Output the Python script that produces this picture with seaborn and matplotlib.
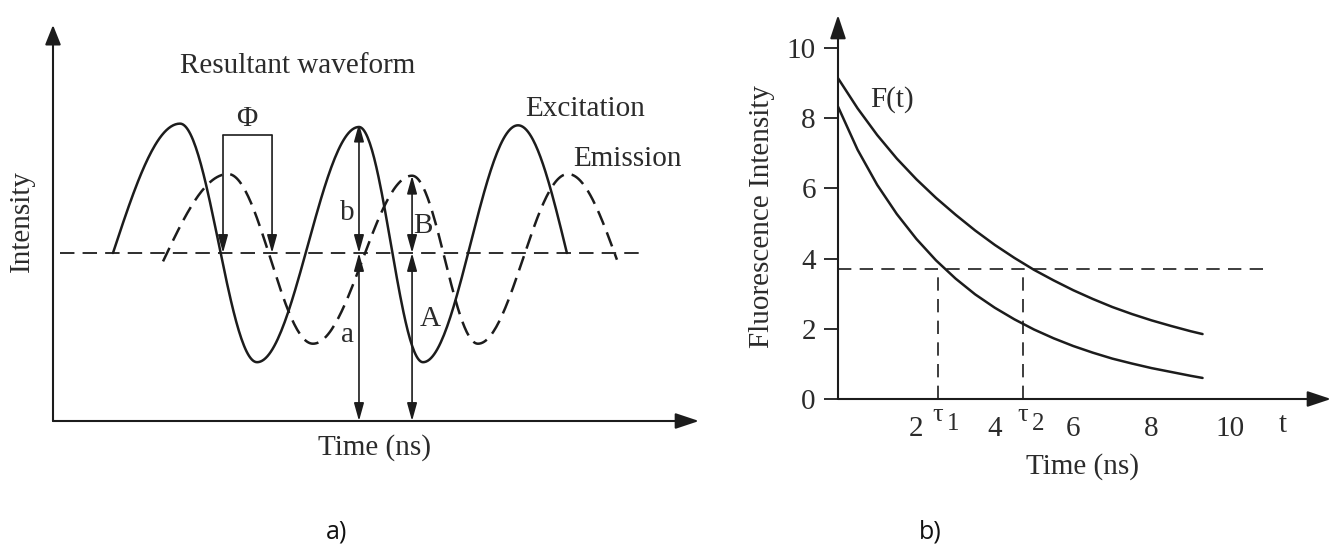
import numpy as np
import pandas as pd
import matplotlib
matplotlib.use("Agg")
import matplotlib.pyplot as plt
import seaborn as sns

# ---------------- data ----------------
# panel a: key points of the two waveforms (time in arb. units, intensity rel. to mean level)
EXC_X = [3.56, 7.54, 12.11, 18.16, 21.96, 27.60, 30.50]
EXC_Y = [1.00, 1.77, 0.35, 1.75, 0.35, 1.76, 1.00]
EMI_X = [6.53, 10.39, 15.43, 21.31, 25.22, 30.56, 33.47]
EMI_Y = [0.95, 1.47, 0.46, 1.46, 0.46, 1.47, 0.96]
BASELINE = 1.0
BASE_SPAN = [0.42, 35.0]
PHI_X = [10.09, 13.0]
PHI_TOP = 1.70
EXC_AMP_X = 18.16     # b / a arrows
EMI_AMP_X = 21.31     # B / A arrows

# panel b: two decay curves
DECAY_T = [0, 0.5, 1, 1.5, 2, 2.5, 3, 3.5, 4, 4.5, 5, 5.5, 6, 6.5, 7, 7.5, 8, 8.5, 9, 9.3]
F_SLOW = [9.14, 8.28, 7.52, 6.85, 6.26, 5.73, 5.25, 4.80, 4.39, 4.02,
          3.68, 3.38, 3.10, 2.85, 2.62, 2.42, 2.24, 2.08, 1.93, 1.85]
F_FAST = [8.33, 7.10, 6.10, 5.27, 4.56, 3.95, 3.43, 2.98, 2.60, 2.27,
          1.98, 1.73, 1.51, 1.32, 1.15, 1.01, 0.88, 0.77, 0.66, 0.60]
LEVEL = 3.69
LEVEL_END = 10.9
TAU = [2.55, 4.72]
Y_TICKS = [0, 2, 4, 6, 8, 10]
X_TICKS = [2, 4, 6, 8, 10]

INK = '#1c1c1c'
TXT = '#2b2b2b'
W, H = 1340, 548
FS = 21

sns.set_style("white")
plt.rcParams['font.family'] = ['Liberation Serif', 'DejaVu Serif']


def fx(px):
    return px / W


def fy(py):
    return 1 - py / H


def wave(xk, yk, n=60):
    # smooth arcs through the read key points (ends sit on the mean level)
    xs, ys = [], []
    for i in range(len(xk) - 1):
        s = np.linspace(0, 1, n)
        if i == 0:
            shape = np.sin(np.pi / 2 * s)
        elif i == len(xk) - 2:
            shape = 1 - np.cos(np.pi / 2 * s)
        else:
            shape = (1 - np.cos(np.pi * s)) / 2
        xs.append(xk[i] + (xk[i + 1] - xk[i]) * s)
        ys.append(yk[i] + (yk[i + 1] - yk[i]) * shape)
    return pd.DataFrame({'x': np.concatenate(xs), 'y': np.concatenate(ys)})


def arrow(ax, p0, p1, style='-|>', ms=12, lw=1.2, hl=0.9, hw=0.25, coords='data'):
    ax.annotate('', xy=p1, xytext=p0, xycoords=coords, textcoords=coords,
                arrowprops=dict(arrowstyle=f'{style},head_length={hl},head_width={hw}',
                                mutation_scale=ms, lw=lw, color=INK,
                                shrinkA=0, shrinkB=0),
                annotation_clip=False)


fig = plt.figure(figsize=(W / 100, H / 100), dpi=100)

# ================= panel a =================
axa = fig.add_axes([fx(53), fy(421), fx(699) - fx(53), fy(25) - fy(421)])
axa.set_xlim(0, 38.34)
axa.set_ylim(0, 2.357)
axa.axis('off')

exc = wave(EXC_X, EXC_Y)
emi = wave(EMI_X, EMI_Y)
sns.lineplot(data=exc, x='x', y='y', ax=axa, sort=False, estimator=None,
             color=INK, lw=1.8)
sns.lineplot(data=emi, x='x', y='y', ax=axa, sort=False, estimator=None,
             color=INK, lw=1.8, linestyle=(0, (6, 3.2)))
axa.plot(BASE_SPAN, [BASELINE, BASELINE], color=INK, lw=1.3, ls=(0, (8, 4.5)))

# axes with arrows
arrow(axa, (0, 0), (1, 0), ms=12, lw=1.5, hl=1.2, hw=0.4, coords='axes fraction')
arrow(axa, (0, 0), (0, 1), ms=12, lw=1.5, hl=1.0, hw=0.4, coords='axes fraction')

# phase bracket
axa.plot([PHI_X[0], PHI_X[1]], [PHI_TOP, PHI_TOP], color=INK, lw=1.2)
for xp in PHI_X:
    arrow(axa, (xp, PHI_TOP), (xp, BASELINE))
axa.text(np.mean(PHI_X) - 0.05, 1.80, 'Φ', ha='center', va='center', fontsize=FS, color=TXT)

# amplitude arrows
arrow(axa, (EXC_AMP_X, BASELINE), (EXC_AMP_X, max(EXC_Y)), style='<|-|>')
arrow(axa, (EXC_AMP_X, 0), (EXC_AMP_X, BASELINE), style='<|-|>')
arrow(axa, (EMI_AMP_X, BASELINE), (EMI_AMP_X, EMI_Y[3]), style='<|-|>')
arrow(axa, (EMI_AMP_X, 0), (EMI_AMP_X, BASELINE), style='<|-|>')

lab = dict(ha='center', va='center', fontsize=FS, color=TXT)
axa.text(17.45, 1.24, 'b', **lab)
axa.text(21.96, 1.16, 'B', **lab)
axa.text(17.45, 0.51, 'a', **lab)
axa.text(22.37, 0.61, 'A', **lab)
axa.text(14.54, 2.11, 'Resultant waveform', **lab)
axa.text(31.57, 1.86, 'Excitation', **lab)
axa.text(34.07, 1.56, 'Emission', **lab)

fig.text(fx(22), fy(221), 'Intensity', rotation=90, ha='center', va='center',
         fontsize=FS, color=TXT)
fig.text(fx(375), fy(448), 'Time (ns)', ha='center', va='center', fontsize=FS, color=TXT)

# ================= panel b =================
axb = fig.add_axes([fx(838), fy(399), fx(1331) - fx(838), fy(15) - fy(399)])
axb.set_xlim(0, 12.577)
axb.set_ylim(0, 10.94)
for side in ['top', 'right', 'left', 'bottom']:
    axb.spines[side].set_visible(False)

decay = pd.DataFrame({'t': DECAY_T, 'slow': F_SLOW, 'fast': F_FAST})
sns.lineplot(data=decay, x='t', y='slow', ax=axb, color=INK, lw=1.8, estimator=None)
sns.lineplot(data=decay, x='t', y='fast', ax=axb, color=INK, lw=1.8, estimator=None)

axb.plot([0, LEVEL_END], [LEVEL, LEVEL], color=INK, lw=1.2, ls=(0, (8, 5)))
for tau in TAU:
    axb.plot([tau, tau], [0, LEVEL], color=INK, lw=1.2, ls=(0, (8, 5)))

arrow(axb, (0, 0), (1, 0), ms=12, lw=1.5, hl=1.2, hw=0.4, coords='axes fraction')
arrow(axb, (0, 0), (0, 1), ms=12, lw=1.5, hl=1.2, hw=0.4, coords='axes fraction')

axb.set_yticks(Y_TICKS)
axb.set_yticklabels([str(v) for v in Y_TICKS])
axb.set_xticks(X_TICKS)
axb.set_xticklabels([str(v) for v in X_TICKS])
axb.tick_params(axis='y', direction='out', length=10, width=1.3, color=INK,
                pad=6, labelsize=FS, labelcolor=TXT, left=True)
axb.tick_params(axis='x', length=0, pad=12, labelsize=FS, labelcolor=TXT)
axb.set_xlabel('')
axb.set_ylabel('')

# tau markers: upright tau with subscript digit
for tau, k in zip(TAU, ['1', '2']):
    axb.text(tau + 0.0, -0.45, 'τ', ha='center', va='center', fontsize=19, color=TXT)
    axb.text(tau + 0.38, -0.70, k, ha='center', va='center', fontsize=18, color=TXT)
axb.text(11.35, -0.74, 't', ha='center', va='center', fontsize=FS, color=TXT)
axb.text(1.37, 8.52, 'F(t)', ha='center', va='center', fontsize=FS, color=TXT)

fig.text(fx(762), fy(217), 'Fluorescence Intensity', rotation=90, ha='center', va='center',
         fontsize=FS, color=TXT)
fig.text(fx(1082), fy(467), 'Time (ns)', ha='center', va='center', fontsize=FS, color=TXT)

# panel letters
fig.text(fx(337), fy(532), 'a)', ha='center', va='center', fontsize=18, color='#111',
         family=['Open Sans', 'DejaVu Sans'])
fig.text(fx(930), fy(532), 'b)', ha='center', va='center', fontsize=18, color='#111',
         family=['Open Sans', 'DejaVu Sans'])

fig.savefig('out.png', dpi=100, facecolor='white')
